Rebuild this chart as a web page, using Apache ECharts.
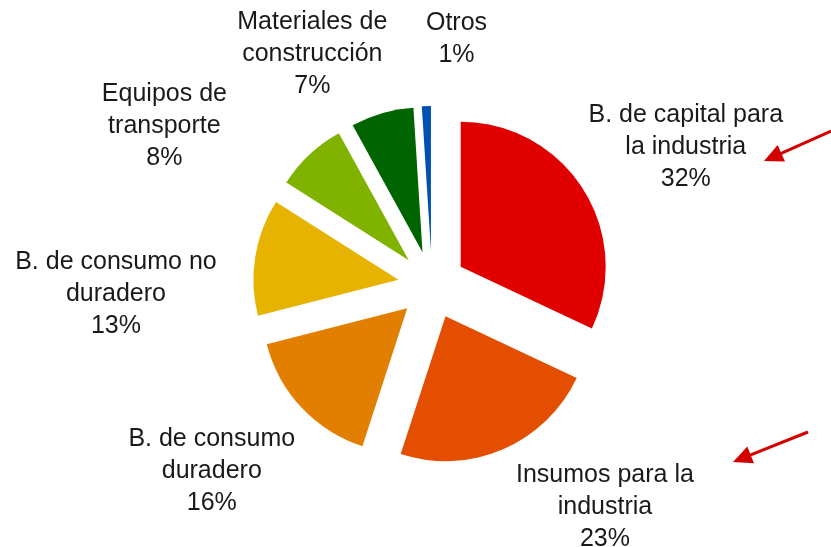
<!DOCTYPE html>
<html><head><meta charset="utf-8">
<script src="https://cdn.jsdelivr.net/npm/echarts@6/dist/echarts.min.js"></script>
<style>html,body{margin:0;padding:0;background:#fff}#c{width:831px;height:547px}</style>
</head><body><div id="c"></div>
<script>
const categories = ['B. de capital para\nla industria', 'Insumos para la\nindustria', 'B. de consumo\nduradero', 'B. de consumo no\nduradero', 'Equipos de\ntransporte', 'Materiales de\nconstrucción', 'Otros'];
const values = [32, 23, 16, 13, 8, 7, 1];
const colors = ['#E10000', '#E34E00', '#E37F00', '#E5B300', '#80B300', '#006400', '#0050B4'];
const labelNudges = [[52, -10], [78, 3], [-46, 23], [-80, 46], [-104, 15], [-53, -1], [32, -7]];

const CX = 432, CY = 285, R = 145, OFF = 34, LABEL_R = R + OFF + 60;
const total = values.reduce((a, b) => a + b, 0);
const mids = []; let acc = 0;
values.forEach(v => { mids.push((acc + v / 2) / total * 2 * Math.PI); acc += v; });

function arrow(x1, y1, x2, y2, color) {
  const L = Math.hypot(x2 - x1, y2 - y1), ux = (x2 - x1) / L, uy = (y2 - y1) / L;
  const hl = 19, hw = 9;
  const bx = x2 - ux * hl, by = y2 - uy * hl;
  return [
    { type: 'line', shape: { x1: x1, y1: y1, x2: bx + ux * 2, y2: by + uy * 2 }, style: { stroke: color, lineWidth: 3 } },
    { type: 'polygon', shape: { points: [[x2, y2], [bx - uy * hw, by + ux * hw], [bx + uy * hw, by - ux * hw]] }, style: { fill: color } }
  ];
}

const chart = echarts.init(document.getElementById('c'), null, { renderer: 'canvas' });
chart.setOption({
  animation: false,
  backgroundColor: '#fff',
  graphic: [].concat(arrow(831, 131, 764, 161, '#D40000'), arrow(808, 432, 733, 462, '#D40000')),
  series: [{
    // exploded slices
    type: 'pie', center: [CX, CY], radius: [0, R], startAngle: 90, clockwise: true,
    selectedMode: 'multiple', selectedOffset: OFF,
    emphasis: { disabled: true },
    label: { show: false }, labelLine: { show: false },
    itemStyle: { borderWidth: 0 },
    data: categories.map((n, i) => ({ name: n, value: values[i], selected: true, itemStyle: { color: colors[i] } }))
  }, {
    // transparent twin carrying the labels
    type: 'pie', center: [CX, CY], radius: [0, R], startAngle: 90, clockwise: true,
    silent: true, selectedMode: false,
    emphasis: { disabled: true },
    avoidLabelOverlap: false,
    itemStyle: { color: 'rgba(0,0,0,0)', borderWidth: 0 },
    label: {
      show: true, position: 'outside',
      formatter: p => p.name + '\n' + p.value + '%',
      fontFamily: 'Liberation Sans, Arial, sans-serif', fontSize: 25, lineHeight: 32,
      color: '#1a1a1a', align: 'center'
    },
    labelLine: { show: false },
    labelLayout: function (params) {
      const i = params.dataIndex, a = mids[i];
      return {
        x: CX + LABEL_R * Math.sin(a) + labelNudges[i][0],
        y: CY - LABEL_R * Math.cos(a) + labelNudges[i][1],
        align: 'center', verticalAlign: 'middle'
      };
    },
    data: categories.map((n, i) => ({ name: n, value: values[i] }))
  }]
});
</script></body></html>
